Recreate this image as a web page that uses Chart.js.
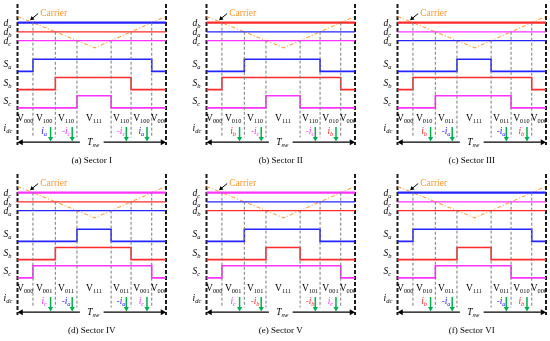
<!DOCTYPE html>
<html><head><meta charset="utf-8">
<script src="https://cdn.jsdelivr.net/npm/chart.js@4/dist/chart.umd.min.js"></script>
<style>
html,body{margin:0;padding:0;background:#fff;}
body{width:550px;height:341px;overflow:hidden;position:relative;}
canvas{position:absolute;}
</style></head><body>
<canvas id="p0" width="170" height="170" style="left:0px;top:0px"></canvas>
<canvas id="p1" width="170" height="170" style="left:189px;top:0px"></canvas>
<canvas id="p2" width="170" height="170" style="left:380px;top:0px"></canvas>
<canvas id="p3" width="170" height="170" style="left:0px;top:170px"></canvas>
<canvas id="p4" width="170" height="170" style="left:189px;top:170px"></canvas>
<canvas id="p5" width="170" height="170" style="left:380px;top:170px"></canvas>
<script>
// ---------- data ----------
const captions = ['(a) Sector I','(b) Sector II','(c) Sector III','(d) Sector IV','(e) Sector V','(f) Sector VI'];
const dutyA = [0.80, 0.51, 0.23, 0.23, 0.51, 0.80];
const dutyB = [0.51, 0.80, 0.80, 0.51, 0.23, 0.23];
const dutyC = [0.23, 0.23, 0.51, 0.80, 0.80, 0.51];
const carrierTime  = [0, 0.52, 1];
const carrierLevel = [1, 0, 1];
const vectorCodes = [
  ['000','100','110','111','110','100','000'],
  ['000','010','110','111','110','010','000'],
  ['000','010','011','111','011','010','000'],
  ['000','001','011','111','011','001','000'],
  ['000','001','101','111','101','001','000'],
  ['000','010','011','111','011','010','000']
];
const currentPhase1 = ['a','b','b','c','c','b'];
const currentPhase2 = ['c','c','a','a','b','a'];

// ---------- styling / layout ----------
const phaseColor = {a:'#2424ff', b:'#ff2b2b', c:'#ff33ff'};
const laneLow = {a:-0.75, b:-1.33, c:-1.91};
const laneAmp = 0.385;
const SERIF = '"Liberation Serif","Times New Roman",serif';
const GREEN = '#00b050';

function crossing(d, i0, i1){
  const t0=carrierTime[i0], t1=carrierTime[i1], v0=carrierLevel[i0], v1=carrierLevel[i1];
  return t0 + (d - v0)/(v1 - v0)*(t1 - t0);
}

function drawParts(ctx, x, y, parts, align){
  const w = parts.map(p=>{ctx.font=p.font; return ctx.measureText(p.text).width;});
  const total = w.reduce((a,b)=>a+b,0);
  let cx = align==='center' ? x-total/2 : (align==='right' ? x-total : x);
  parts.forEach((p,i)=>{ctx.font=p.font; ctx.fillStyle=p.color; ctx.fillText(p.text, cx, y+(p.dy||0)); cx+=w[i];});
}

function buildPanel(k){
  const duty = {a:dutyA[k], b:dutyB[k], c:dutyC[k]};
  const order = ['a','b','c'].slice().sort((p,q)=>duty[q]-duty[p]);
  const rise = {}, fall = {};
  order.forEach(p=>{ rise[p]=crossing(duty[p],0,1); fall[p]=crossing(duty[p],1,2); });
  const edges = [0, rise[order[0]], rise[order[1]], rise[order[2]], fall[order[2]], fall[order[1]], fall[order[0]], 1];
  const ds = [];
  // gray dashed projections
  order.forEach(p=>{
    [rise[p], fall[p]].forEach(t=>{
      ds.push({data:[{x:t,y:duty[p]},{x:t,y:-2.85}], borderColor:'#7a7a7a', borderWidth:1, borderDash:[3,2], pointRadius:0});
    });
  });
  // duty levels
  order.forEach((p,i)=>{
    ds.push({data:[{x:0,y:duty[p]},{x:1,y:duty[p]}], borderColor:phaseColor[p], borderWidth: i===0?2.3:1.3, pointRadius:0});
  });
  // carrier
  ds.push({data:carrierTime.map((t,i)=>({x:t,y:carrierLevel[i]})), borderColor:'#ffa64d', borderWidth:1.1, borderDash:[4,2,1,2], pointRadius:0});
  // switching signals
  ['a','b','c'].forEach(p=>{
    const lo=laneLow[p], hi=lo+laneAmp;
    ds.push({data:[{x:0,y:lo},{x:rise[p],y:lo},{x:rise[p],y:hi},{x:fall[p],y:hi},{x:fall[p],y:lo},{x:1,y:lo}],
      borderColor:phaseColor[p], borderWidth:1.6, pointRadius:0});
  });
  // Tsw arrow
  ds.push({data:[{x:0.0235,y:-3.0},{x:0.42,y:-3.0}], borderColor:'#000', borderWidth:1.3,
    pointRadius:[3.5,0], pointStyle:'triangle', rotation:270, pointBackgroundColor:'#000', pointBorderWidth:0});
  ds.push({data:[{x:0.58,y:-3.0},{x:0.9765,y:-3.0}], borderColor:'#000', borderWidth:1.3,
    pointRadius:[0,3.5], pointStyle:'triangle', rotation:90, pointBackgroundColor:'#000', pointBorderWidth:0});
  // green current arrows
  [edges[2], edges[3], edges[5], edges[6]].forEach(t=>{
    const x = t-0.032;
    ds.push({data:[{x:x,y:-2.52},{x:x,y:-2.88}], borderColor:GREEN, borderWidth:1.5,
      pointRadius:[0,3], pointStyle:'triangle', rotation:180, pointBackgroundColor:GREEN, pointBorderWidth:0});
  });
  // carrier pointer arrow
  ds.push({data:[{x:0.139,y:1.09},{x:0.098,y:0.93}], borderColor:'#000', borderWidth:1,
    pointRadius:[0,2.6], pointStyle:'triangle', rotation:229, pointBackgroundColor:'#000', pointBorderWidth:0});
  // borders
  [0,1].forEach(t=>{
    ds.push({data:[{x:t,y:1.394},{x:t,y:-3.09}], borderColor:'#1a1a1a', borderWidth:2, borderDash:[4,2], pointRadius:0});
  });
  ds.forEach(d=>{d.clip=false; d.fill=false;});

  const textPlugin = {
    id:'txt'+k,
    afterDatasetsDraw(chart){
      const ctx=chart.ctx, X=chart.scales.x, Y=chart.scales.y, ca=chart.chartArea;
      ctx.save();
      ctx.textBaseline='alphabetic';
      const lx = ca.left-14;
      const itF = s=>'italic '+s+'px '+SERIF, rF = s=>s+'px '+SERIF;
      // duty labels
      order.forEach(p=>{
        const y=Y.getPixelForValue(duty[p]);
        drawParts(ctx, lx, y+3, [{text:'d',font:itF(9.5),color:'#000'},{text:p,font:itF(6.5),color:'#000',dy:2}], 'left');
      });
      // switch labels
      ['a','b','c'].forEach(p=>{
        const y=Y.getPixelForValue(laneLow[p]+laneAmp/2)-1;
        drawParts(ctx, lx, y+3, [{text:'S',font:itF(9.5),color:'#000'},{text:p,font:itF(6.5),color:'#000',dy:2}], 'left');
      });
      // idc
      drawParts(ctx, lx, Y.getPixelForValue(-2.55)+3, [{text:'i',font:itF(9.5),color:'#000'},{text:'dc',font:itF(6.5),color:'#000',dy:2}], 'left');
      // carrier text
      ctx.font=rF(9.5); ctx.fillStyle='#ff9933';
      ctx.fillText('Carrier', X.getPixelForValue(0.153), Y.getPixelForValue(1.12)+3);
      // vector labels (clip at right border)
      ctx.save();
      ctx.beginPath(); ctx.rect(0,0,ca.right,chart.height); ctx.clip();
      const vy = Y.getPixelForValue(-2.24)+3;
      vectorCodes[k].forEach((code,i)=>{
        const cx = X.getPixelForValue((edges[i]+edges[i+1])/2);
        drawParts(ctx, cx, vy, [{text:'V',font:rF(9.5),color:'#000'},{text:code,font:rF(6.3),color:'#000',dy:2}], 'center');
      });
      ctx.restore();
      // current labels
      const cy = Y.getPixelForValue(-2.64)+3;
      const p1=currentPhase1[k], p2=currentPhase2[k];
      [[1,p1,''],[2,p2,'-'],[4,p2,'-'],[5,p1,'']].forEach(([i,p,s])=>{
        const cx = X.getPixelForValue((edges[i]+edges[i+1])/2);
        const parts=[];
        if(s) parts.push({text:s,font:rF(9),color:phaseColor[p]});
        parts.push({text:'i',font:itF(9.5),color:phaseColor[p]});
        parts.push({text:p,font:itF(6.5),color:phaseColor[p],dy:2});
        drawParts(ctx, cx, cy, parts, 'center');
      });
      // Tsw
      drawParts(ctx, X.getPixelForValue(0.51), Y.getPixelForValue(-3.0)+3,
        [{text:'T',font:itF(9.5),color:'#000'},{text:'sw',font:itF(6.5),color:'#000',dy:2}], 'center');
      // caption
      ctx.font=rF(9); ctx.fillStyle='#000'; ctx.textAlign='center';
      ctx.fillText(captions[k], X.getPixelForValue(0.5), Y.getPixelForValue(-3.58)+3);
      ctx.restore();
    }
  };

  new Chart(document.getElementById('p'+k), {
    type:'line',
    data:{datasets:ds},
    options:{
      responsive:false, animation:false, devicePixelRatio:1,
      layout:{padding:{left:17.5,right:3.8,top:0,bottom:0}},
      scales:{
        x:{type:'linear',min:0,max:1,display:false},
        y:{type:'linear',min:-3.758,max:1.394,display:false}
      },
      plugins:{legend:{display:false},tooltip:{enabled:false}},
      elements:{line:{tension:0}},
      events:[]
    },
    plugins:[textPlugin]
  });
}
for(let k=0;k<6;k++) buildPanel(k);
</script>
</body></html>
